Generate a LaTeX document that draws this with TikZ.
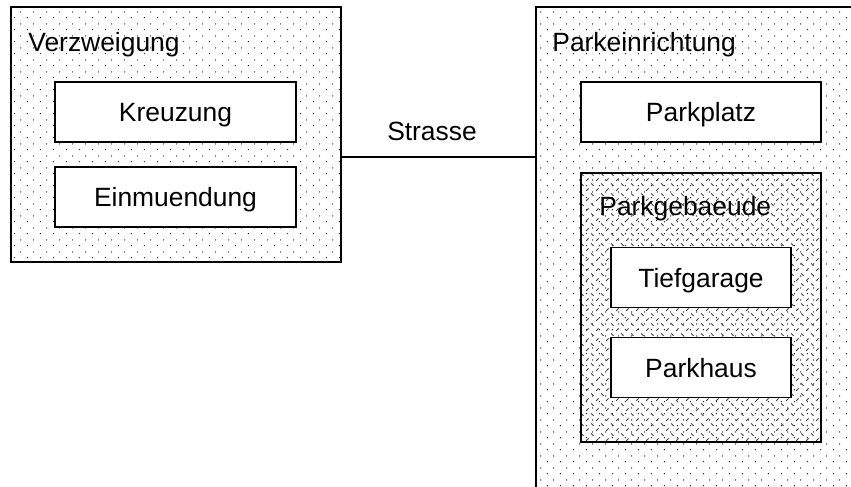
\documentclass[tikz,border=0pt]{standalone}
\usepackage{fontspec}
\setmainfont{Liberation Sans}
\usetikzlibrary{patterns}

\pgfdeclarepatternformonly{sparsedots}{\pgfpointorigin}{\pgfqpoint{6.5pt}{6pt}}{\pgfqpoint{6.5pt}{6pt}}{
	\pgfpathcircle{\pgfqpoint{0.8pt}{0.8pt}}{0.4pt}
	\pgfpathcircle{\pgfqpoint{4.05pt}{3.8pt}}{0.4pt}
	\pgfusepath{fill}
}
\pgfdeclarepatternformonly{dashhatch}{\pgfqpoint{-0.5pt}{-0.5pt}}{\pgfqpoint{5.5pt}{5.5pt}}{\pgfqpoint{5pt}{5pt}}{
	\pgfsetlinewidth{0.45pt}
	\pgfpathmoveto{\pgfqpoint{0.6pt}{1.8pt}}
	\pgfpathlineto{\pgfqpoint{1.8pt}{0.6pt}}
	\pgfpathmoveto{\pgfqpoint{3.1pt}{3.1pt}}
	\pgfpathlineto{\pgfqpoint{4.3pt}{4.3pt}}
	\pgfusepath{stroke}
}

\tikzset{
	area/.style={draw,line width=0.7pt,outer sep=0pt,pattern=sparsedots,pattern color=black!80},
	subarea/.style={draw,line width=0.7pt,outer sep=0pt,pattern=dashhatch,pattern color=black!75},
	item/.style={draw,line width=0.7pt,fill=white,outer sep=0pt,minimum height=30pt,text depth=0pt},
	title/.style={anchor=base west,inner sep=0pt},
}

\begin{document}
\begin{tikzpicture}[x=0.5pt,y=-0.5pt,font=\fontsize{13.2}{15}\selectfont]
		\useasboundingbox (0,0) rectangle (851,487);
		\clip (0,0) rectangle (851,487);

		\node[area,minimum width=165pt,minimum height=127.5pt] (verzweigung) at (176,134.5) {};
		\node[title] (verzweigunglabel) at (28,51) {Verzweigung};
		\node[item,minimum width=120.5pt] (kreuzung) at (175.5,112) {Kreuzung};
		\node[item,minimum width=120.5pt] (einmuendung) at (175.5,197) {Einmuendung};

		\node[area,minimum width=172pt,minimum height=256.5pt] (parkeinrichtung) at (708,263.5) {};
		\node[title] (parkeinrichtunglabel) at (552,51) {Parkeinrichtung};
		\node[item,minimum width=120pt] (parkplatz) at (701,112) {Parkplatz};

		\node[subarea,minimum width=120pt,minimum height=134.5pt] (parkgebaeude) at (701,307.5) {};
		\node[title] (parkgebaeudelabel) at (599,215) {Parkgebaeude};
		\node[item,minimum width=90pt] (tiefgarage) at (701,277.5) {Tiefgarage};
		\node[item,minimum width=90pt] (parkhaus) at (701,367.5) {Parkhaus};

		\node[anchor=base,inner sep=0pt] (strasse) at (432,140) {Strasse};
		\draw[line width=1.3pt] (verzweigung.east |- 0,157) -- (parkeinrichtung.west |- 0,157);
	\end{tikzpicture}
\end{document}
